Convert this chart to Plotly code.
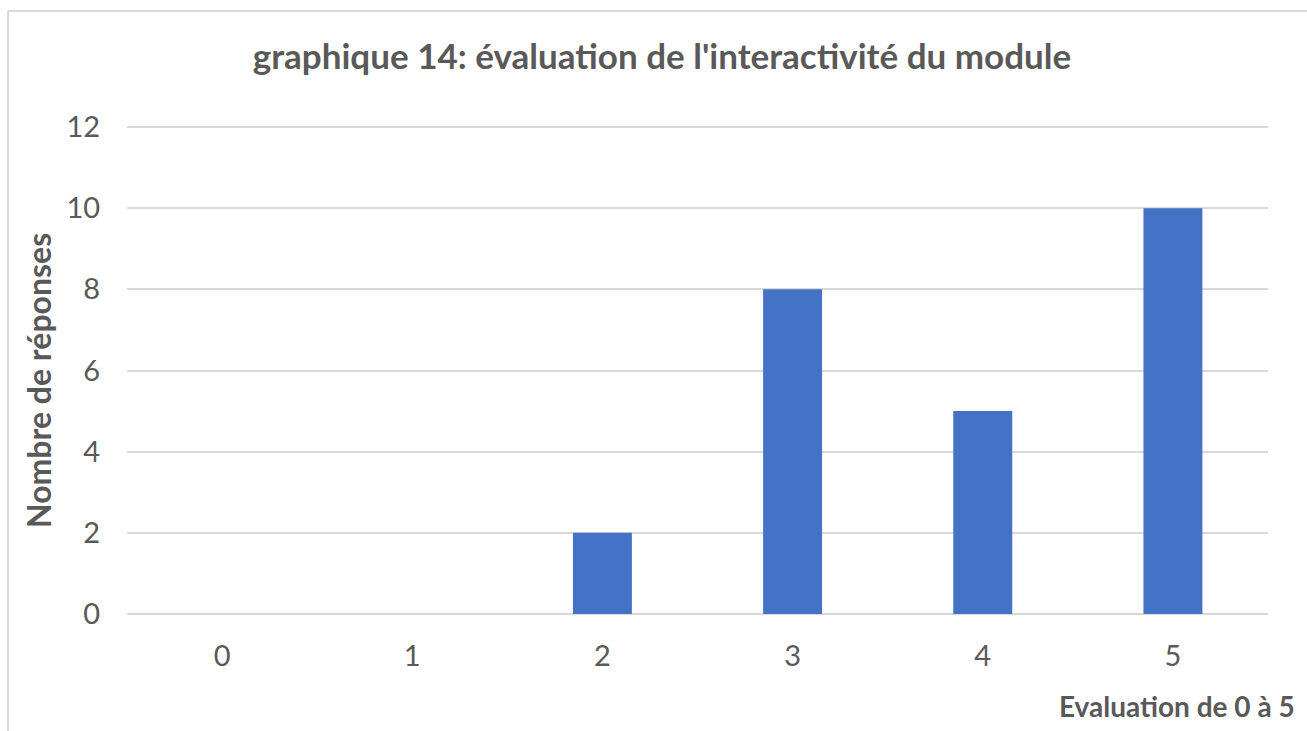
import plotly.graph_objects as go

categories = ["0", "1", "2", "3", "4", "5"]
responses = [0, 0, 2, 8, 5, 10]
y_ticks = [0, 2, 4, 6, 8, 10, 12]

title_text = "graphique 14: évaluation de l'interactivité du module"
y_title = "Nombre de réponses"
x_title = "Evaluation de 0 à 5"

TXT = "#595959"
GRID = "#D9D9D9"
BAR = "#4472C4"
FONT = "Lato"

W, H = 1307, 731
L, R, T, B = 127, 1268, 127, 614   # plot area where y=0..12
T2 = 121                            # actual top margin (a bit of headroom so the 12 gridline shows)
unit = (B - T) / 12.0
ytop = 12 + (T - T2) / unit
pw, ph = R - L, B - T2

def px(x):
    return (x - L) / pw

def py(y):
    return (B - y) / ph

fig = go.Figure(
    go.Bar(x=categories, y=responses, marker=dict(color=BAR, line=dict(width=0)))
)

fig.update_layout(
    width=W, height=H,
    margin=dict(l=L, r=W - R, t=T2, b=H - B, pad=0),
    paper_bgcolor="white", plot_bgcolor="white",
    bargap=0.69,
    showlegend=False,
    font=dict(family=FONT, color=TXT, size=29),
    title=dict(text="<b>" + title_text + "</b>", xref="paper", x=px(662), xanchor="center",
               yref="container", y=1 - 57 / H, yanchor="middle",
               font=dict(family=FONT, size=35, color=TXT)),
)

fig.update_xaxes(type="category", showgrid=False, showline=False, zeroline=False,
                 ticks="outside", ticklen=16, tickcolor="rgba(0,0,0,0)",
                 tickfont=dict(family=FONT, size=29, color=TXT))
fig.update_yaxes(range=[0, ytop], tickvals=y_ticks, showgrid=True, gridcolor=GRID, gridwidth=1.5,
                 zeroline=True, zerolinecolor=GRID, zerolinewidth=1.5, showline=False,
                 ticks="outside", ticklen=20, tickcolor="rgba(0,0,0,0)",
                 tickfont=dict(family=FONT, size=29, color=TXT))

fig.add_annotation(text="<b>" + y_title + "</b>", xref="paper", yref="paper",
                   x=px(38), y=py(381), textangle=-90, showarrow=False,
                   xanchor="center", yanchor="middle",
                   font=dict(family=FONT, size=32, color=TXT))
fig.add_annotation(text="<b>" + x_title + "</b>", xref="paper", yref="paper",
                   x=px(1297), y=py(706), showarrow=False,
                   xanchor="right", yanchor="middle",
                   font=dict(family=FONT, size=28, color=TXT))

# chart border (left and top)
fig.add_shape(type="line", xref="paper", yref="paper", x0=px(8), x1=px(8), y0=py(11), y1=py(H),
              line=dict(color=GRID, width=2))
fig.add_shape(type="line", xref="paper", yref="paper", x0=px(8), x1=px(W), y0=py(11), y1=py(11),
              line=dict(color=GRID, width=2))

fig.write_html("out.html", config={"displayModeBar": False},
               post_script="document.body.style.margin='0px';document.body.style.overflow='hidden';")
